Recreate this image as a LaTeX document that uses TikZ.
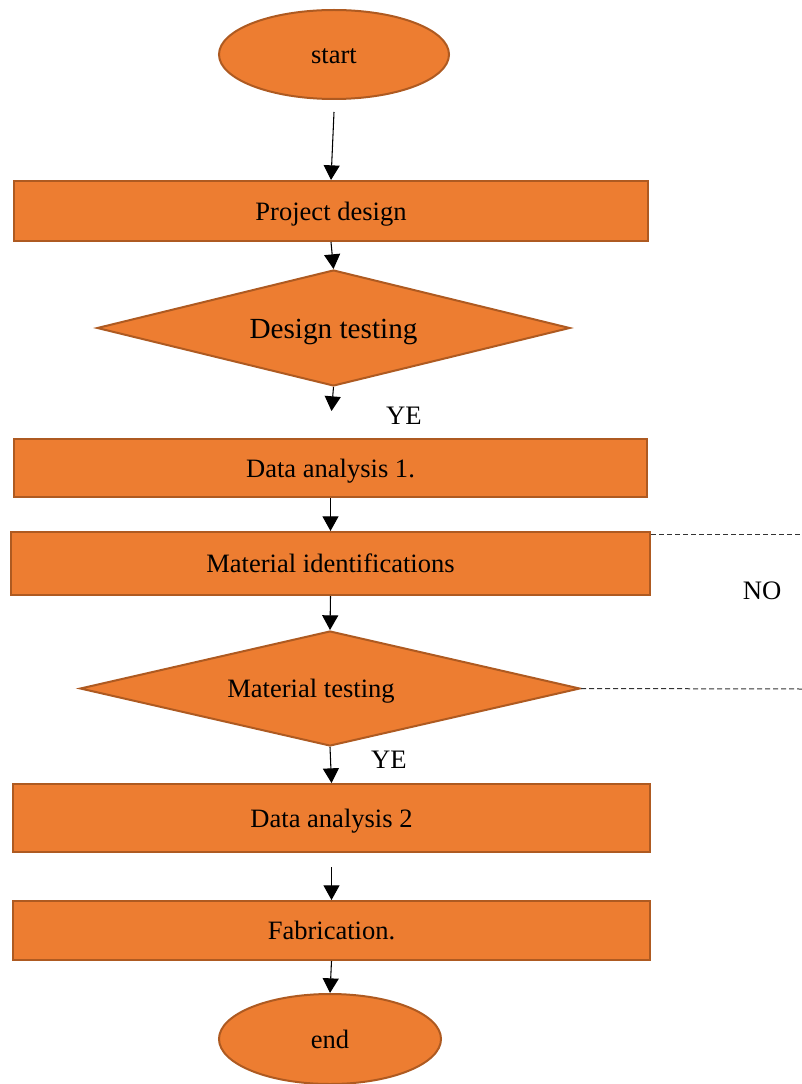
\documentclass[tikz,border=0pt]{standalone}
\usepackage{fontspec}
\setmainfont{Liberation Serif}
\usetikzlibrary{shapes.geometric,arrows.meta}
\definecolor{boxfill}{HTML}{ED7D31}
\definecolor{boxline}{HTML}{AE5A21}
\tikzset{
  base/.style={fill=boxfill, draw=boxline, line width=1.5pt, inner sep=0pt, text=black,
    font=\fontsize{19.9pt}{24pt}\selectfont, text height=14.2pt, text depth=0pt},
  procbox/.style={base, rectangle},
  termbox/.style={base, ellipse},
  decbox/.style={base, diamond, aspect=4.2},
  arr/.style={-{Triangle[width=12pt,length=11pt]}, line width=0.8pt, black},
  noline/.style={dashed, dash pattern=on 3.75pt off 2.25pt, line width=0.75pt, black!80},
  lbl/.style={font=\fontsize{20pt}{24pt}\selectfont, inner sep=0pt}
}
\begin{document}
\begin{tikzpicture}[x=0.75pt,y=-0.75pt]
\useasboundingbox (0,0) rectangle (802,1084);
\node[termbox, minimum width=172.5pt, minimum height=66.75pt] (start) at (334,54.5) {start};
\node[procbox, minimum width=475.5pt, minimum height=45pt] (pd) at (331,211) {Project design};
\node[decbox, minimum width=354.75pt, minimum height=87pt,
  font=\fontsize{21.9pt}{26pt}\selectfont, text height=15pt] (dt) at (333.5,328) {Design testing};
\coordinate (c1) at (331.5,411);
\node[procbox, minimum width=474.75pt, minimum height=43.5pt] (da1) at (330.5,468) {Data analysis 1.};
\node[procbox, minimum width=479.25pt, minimum height=47.25pt] (mi) at (330.5,563.5) {Material identifications};
\node[decbox, minimum width=375pt, minimum height=86.25pt,
  label={[xshift=-14.25pt, inner sep=0pt, text height=14.2pt, text depth=0pt,
    font=\fontsize{19.9pt}{24pt}\selectfont]center:Material testing}] (mt) at (330,688.5) {};
\node[procbox, minimum width=477.75pt, minimum height=51pt] (da2) at (331.5,818) {Data analysis 2};
\node[procbox, minimum width=477.75pt, minimum height=44.25pt] (fab) at (331.5,930.5) {Fabrication.};
\node[termbox, minimum width=166.5pt, minimum height=67.5pt] (end) at (330,1039) {end};

\node[lbl] (ye1) at (404,416) {YE};
\node[lbl] (ye2) at (389,760) {YE};
\node[lbl] (no) at (762,591) {NO};
\coordinate (d1) at (802,534);
\coordinate (d2) at (802,689);

\draw[arr] ([yshift=-9pt]start.south) -- (pd.north);
\draw[arr] (pd.south) -- (dt.north);
\draw[arr] (dt.south) -- (c1);
\draw[arr] (da1.south) -- (mi.north);
\draw[arr] (mi.south) -- (mt.north);
\draw[arr] (mt.south) -- (da2.north);
\draw[arr] ([yshift=-10.5pt]da2.south) -- (fab.north);
\draw[arr] (fab.south) -- (end.north);

\draw[noline] (mi.north east |- d1) -- (d1);
\draw[noline] (mt.east) -- (d2);
\end{tikzpicture}
\end{document}
